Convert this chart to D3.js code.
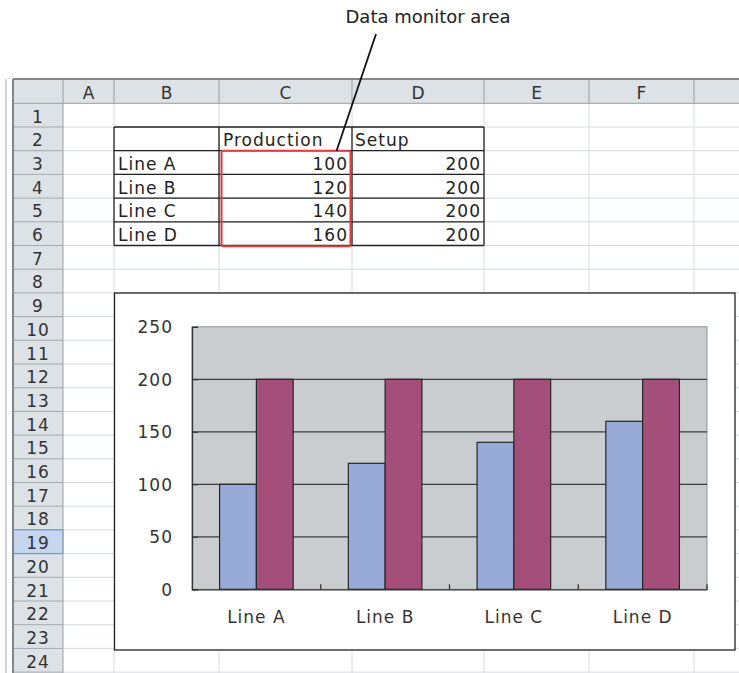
<!DOCTYPE html>
<html><head><meta charset="utf-8">
<script src="https://cdn.jsdelivr.net/npm/d3@7"></script>
<style>
body{margin:0;background:#fff;}
svg{display:block;}
text{font-family:"DejaVu Sans",sans-serif;}
</style></head>
<body>
<svg id="c" width="739" height="673"></svg>
<script>
// ---- data ----
const categories = ["Line A","Line B","Line C","Line D"];
const production = [100,120,140,160];
const setup = [200,200,200,200];
const seriesNames = ["Production","Setup"];
const yTicks = [0,50,100,150,200,250];
const colLetters = ["A","B","C","D","E","F",""];
const rowLabels = ["1","2","3","4","5","6","7","8","9","10","11","12","13","14","15","16","17","18","19","20","21","22","23","24"];
const annotation = "Data monitor area";

// ---- layout ----
const svg = d3.select("#c");
const colEdges = [13,63,114,219,352,484,589,694,739];
const headerTop = 79, rowH = 23.7, firstRowTop = 103.3;
const rowTop = i => firstRowTop + i*rowH; // i = 0-based row index
const cellFont = 17, ls = 1;

// header backgrounds
svg.append("rect").attr("x",13).attr("y",headerTop).attr("width",726).attr("height",firstRowTop-headerTop).attr("fill","#dde2e6");
svg.append("rect").attr("x",13).attr("y",headerTop).attr("width",50).attr("height",673-headerTop).attr("fill","#dde2e6");
// window edge
svg.append("line").attr("x1",6).attr("x2",6).attr("y1",headerTop).attr("y2",673).attr("stroke","#d0d3d6").attr("stroke-width",2);

// cell grid
const grid = svg.append("g");
rowLabels.forEach((r,i)=>{
  grid.append("line").attr("x1",63).attr("x2",739).attr("y1",rowTop(i+1)).attr("y2",rowTop(i+1)).attr("stroke","#d6dadd");
});
colEdges.slice(2,8).forEach(x=>{
  grid.append("line").attr("x1",x).attr("x2",x).attr("y1",firstRowTop).attr("y2",673).attr("stroke","#d6dadd");
});
// row header separators
rowLabels.forEach((r,i)=>{
  svg.append("line").attr("x1",13).attr("x2",63).attr("y1",rowTop(i+1)).attr("y2",rowTop(i+1)).attr("stroke","#a4abb0");
});
// highlighted row 19
svg.append("rect").attr("x",13.5).attr("y",rowTop(18)).attr("width",49.5).attr("height",rowH).attr("fill","#c5d6ee").attr("stroke","#6d8fc2");
// column header separators
colEdges.slice(1,8).forEach(x=>{
  svg.append("line").attr("x1",x).attr("x2",x).attr("y1",headerTop).attr("y2",firstRowTop).attr("stroke","#9aa1a6");
});
svg.append("line").attr("x1",63).attr("x2",63).attr("y1",firstRowTop).attr("y2",673).attr("stroke","#9aa1a6");
svg.append("line").attr("x1",13).attr("x2",739).attr("y1",firstRowTop).attr("y2",firstRowTop).attr("stroke","#9aa1a6");
svg.append("line").attr("x1",13).attr("x2",739).attr("y1",headerTop).attr("y2",headerTop).attr("stroke","#80878c").attr("stroke-width",2);
svg.append("line").attr("x1",13).attr("x2",13).attr("y1",headerTop).attr("y2",673).attr("stroke","#80878c").attr("stroke-width",2);

// header texts
colLetters.forEach((c,i)=>{
  svg.append("text").attr("x",(colEdges[i+1]+colEdges[i+2])/2).attr("y",99).attr("text-anchor","middle")
    .attr("font-size",cellFont).attr("fill","#333").text(c);
});
rowLabels.forEach((r,i)=>{
  svg.append("text").attr("x",38).attr("y",rowTop(i+1)-4.5).attr("text-anchor","middle")
    .attr("font-size",cellFont).attr("letter-spacing",ls).attr("fill","#333").text(r);
});

// table B2:D6
const tbl = svg.append("g");
const tTop = rowTop(1), tBot = rowTop(6);
[1,2,3,4,5,6].forEach(i=>{
  tbl.append("line").attr("x1",114).attr("x2",484).attr("y1",rowTop(i)).attr("y2",rowTop(i)).attr("stroke","#222").attr("stroke-width",1.3);
});
[114,219,352,484].forEach(x=>{
  tbl.append("line").attr("x1",x).attr("x2",x).attr("y1",tTop).attr("y2",tBot).attr("stroke","#222").attr("stroke-width",1.3);
});
const tt = (x,y,s,anchor)=>tbl.append("text").attr("x",x).attr("y",y).attr("text-anchor",anchor)
  .attr("font-size",cellFont).attr("letter-spacing",ls).attr("fill","#222").text(s);
tt(223,rowTop(2)-4.5,seriesNames[0],"start");
tt(355,rowTop(2)-4.5,seriesNames[1],"start");
categories.forEach((c,i)=>{
  tt(118,rowTop(i+3)-4.5,c,"start");
  tt(348,rowTop(i+3)-4.5,production[i],"end");
  tt(481,rowTop(i+3)-4.5,setup[i],"end");
});
// red monitor box
svg.append("rect").attr("x",221.5).attr("y",150.8).attr("width",129).attr("height",95.5).attr("rx",2)
  .attr("fill","none").attr("stroke","#e03a3a").attr("stroke-width",2);
// annotation
svg.append("text").attr("x",428).attr("y",23).attr("text-anchor","middle").attr("font-family","'Liberation Sans',Arial,sans-serif")
  .attr("font-size",18).attr("fill","#222").text(annotation);
svg.append("line").attr("x1",376).attr("y1",34).attr("x2",336.5).attr("y2",151).attr("stroke","#111").attr("stroke-width",1.8);

// ---- chart ----
svg.append("rect").attr("x",114.5).attr("y",293).attr("width",620.5).attr("height",357).attr("fill","#fff").attr("stroke","#222").attr("stroke-width",1.3);
const pl = 192, pr = 707, pt = 326.8, pb = 589.3;
const x0 = d3.scaleBand().domain(categories).range([pl,pr]).paddingInner(0).paddingOuter(0);
const x1 = d3.scaleBand().domain(seriesNames).range([0,x0.bandwidth()]).paddingInner(0).paddingOuter(0.75);
const y = d3.scaleLinear().domain([0,250]).range([pb,pt]);
const color = d3.scaleOrdinal().domain(seriesNames).range(["#98aad8","#a44f79"]);

svg.append("rect").attr("x",pl).attr("y",pt).attr("width",pr-pl).attr("height",pb-pt).attr("fill","#cacdd0").attr("stroke","#8f9396");
// gridlines
svg.append("g").selectAll("line").data(yTicks.slice(1,-1)).join("line")
  .attr("x1",pl).attr("x2",pr).attr("y1",d=>y(d)).attr("y2",d=>y(d)).attr("stroke","#3c3c3c").attr("stroke-width",1.2);
// bars
const rows = categories.map((c,i)=>({c, vals:[{s:seriesNames[0],v:production[i]},{s:seriesNames[1],v:setup[i]}]}));
svg.append("g").selectAll("g").data(rows).join("g").attr("transform",d=>`translate(${x0(d.c)},0)`)
  .selectAll("rect").data(d=>d.vals).join("rect")
  .attr("x",d=>x1(d.s)).attr("y",d=>y(d.v)).attr("width",x1.bandwidth()).attr("height",d=>y(0)-y(d.v))
  .attr("fill",d=>color(d.s)).attr("stroke","#262626").attr("stroke-width",1.2);

// y axis
const yAxis = d3.axisLeft(y).tickValues(yTicks).tickSize(-6).tickPadding(0).tickFormat(d3.format("d"));
const ya = svg.append("g").attr("transform",`translate(${pl},0)`).call(yAxis);
ya.select(".domain").attr("stroke","#333").attr("stroke-width",1.3);
ya.selectAll(".tick line").attr("stroke","#333");
ya.selectAll(".tick text").attr("x",-19).attr("dy","0.36em").attr("font-size",cellFont).attr("letter-spacing",ls)
  .attr("fill","#333").attr("font-family","DejaVu Sans");
// x axis
const xAxis = d3.axisBottom(x0).tickSize(0).tickPadding(0);
const xa = svg.append("g").attr("transform",`translate(0,${pb})`).call(xAxis);
xa.select(".domain").attr("stroke","#333").attr("stroke-width",1.3);
xa.selectAll(".tick text").attr("y",34).attr("dy",0).attr("font-size",cellFont).attr("letter-spacing",ls)
  .attr("fill","#333").attr("font-family","DejaVu Sans");
// category boundary ticks (inward)
xa.append("g").selectAll("line").data(categories).join("line")
  .attr("x1",d=>x0(d)+x0.bandwidth()).attr("x2",d=>x0(d)+x0.bandwidth()).attr("y1",0).attr("y2",-5)
  .attr("stroke","#333").attr("stroke-width",1.3);
</script>
</body></html>
